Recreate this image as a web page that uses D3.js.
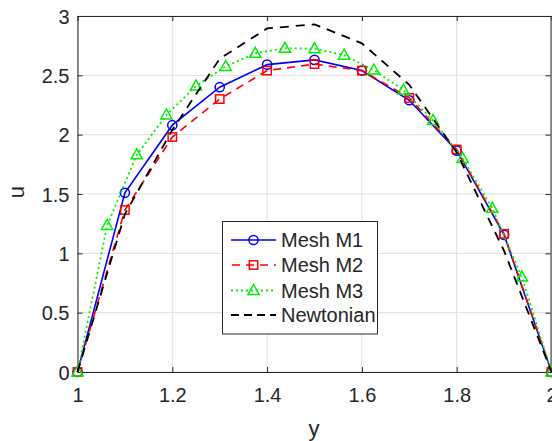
<!DOCTYPE html>
<html><head><meta charset="utf-8">
<script src="https://cdn.jsdelivr.net/npm/d3@7"></script>
<style>body{margin:0;background:#fff}svg{display:block}text{font-family:"Liberation Sans",Arial,sans-serif;fill:#262626}</style>
</head><body><svg id="c" width="552" height="441"></svg>
<script>
const xM12 = [1, 1.1, 1.2, 1.3, 1.4, 1.5, 1.6, 1.7, 1.8, 1.9, 2];
const uM1 = [0, 1.51, 2.08, 2.40, 2.59, 2.63, 2.54, 2.29, 1.865, 1.155, 0];
const uM2 = [0, 1.365, 1.98, 2.30, 2.54, 2.595, 2.54, 2.31, 1.875, 1.165, 0];
const xM3 = [1, 1.0625, 1.125, 1.1875, 1.25, 1.3125, 1.375, 1.4375, 1.5, 1.5625, 1.625, 1.6875, 1.75, 1.8125, 1.875, 1.9375, 2];
const uM3 = [0, 1.235, 1.83, 2.166, 2.41, 2.575, 2.686, 2.728, 2.725, 2.67, 2.545, 2.376, 2.12, 1.80, 1.38, 0.80, 0];
const xNewt = [1, 1.1, 1.2, 1.3, 1.4, 1.5, 1.6, 1.7, 1.8, 1.9, 2];
const uNewt = [0, 1.33, 2.04, 2.64, 2.895, 2.93, 2.77, 2.42, 1.85, 1.02, 0];
const xTicks = [1, 1.2, 1.4, 1.6, 1.8, 2];
const yTicks = [0, 0.5, 1, 1.5, 2, 2.5, 3];
const legendLabels = ["Mesh M1", "Mesh M2", "Mesh M3", "Newtonian"];

const svg = d3.select("#c");
const L = 77.5, R = 551.5, T = 16, B = 372;
const x = d3.scaleLinear().domain([1, 2]).range([L, R]);
const y = d3.scaleLinear().domain([0, 3]).range([B, T]);
const ink = "#262626";

// grid
const g = svg.append("g");
g.selectAll(".gx").data(xTicks).enter().append("line")
  .attr("x1", d => x(d)).attr("x2", d => x(d)).attr("y1", T).attr("y2", B)
  .attr("stroke", "#dedede").attr("stroke-width", 1);
g.selectAll(".gy").data(yTicks).enter().append("line")
  .attr("x1", L).attr("x2", R).attr("y1", d => y(d)).attr("y2", d => y(d))
  .attr("stroke", "#dedede").attr("stroke-width", 1);

// axes (ticks inside)
const fs = "20px";
const ax = svg.append("g").attr("transform", `translate(0,${B})`)
  .call(d3.axisBottom(x).tickValues(xTicks).tickFormat(d3.format("")).tickSizeInner(-5).tickSizeOuter(0).tickPadding(16));
const axT = svg.append("g").attr("transform", `translate(0,${T})`)
  .call(d3.axisTop(x).tickValues(xTicks).tickFormat("").tickSizeInner(-5).tickSizeOuter(0));
const ay = svg.append("g").attr("transform", `translate(${L},0)`)
  .call(d3.axisLeft(y).tickValues(yTicks).tickFormat(d3.format("")).tickSizeInner(-5).tickSizeOuter(0).tickPadding(8));
const ayR = svg.append("g").attr("transform", `translate(${R - 1},0)`)
  .call(d3.axisRight(y).tickValues(yTicks).tickFormat("").tickSizeInner(-5).tickSizeOuter(0));
[ax, axT, ay, ayR].forEach(a => {
  a.selectAll("path").attr("stroke", ink).attr("stroke-width", 1);
  a.selectAll("line").attr("stroke", ink);
  a.selectAll("text").style("font-size", fs).attr("fill", ink).style("font-family", '"Liberation Sans",Arial,sans-serif');
});
ay.selectAll("text").attr("dy", "0.36em");

svg.append("text").attr("x", 314).attr("y", 436).attr("text-anchor", "middle").style("font-size", "22px").text("y");
svg.append("text").attr("transform", "translate(24,192) rotate(-90)").attr("text-anchor", "middle").style("font-size", "22px").text("u");

// series
const series = [
  {xs: xM12, us: uM1, color: "#0000ff", dash: null, w: 1.6, marker: "circle"},
  {xs: xM12, us: uM2, color: "#ff0000", dash: "8,6", w: 1.6, marker: "square"},
  {xs: xM3, us: uM3, color: "#00ee00", dash: "2,3", w: 1.8, marker: "triangle"},
  {xs: xNewt, us: uNewt, color: "#000000", dash: "9,7", w: 1.8, marker: null}
];
const line = d3.line().x(d => x(d[0])).y(d => y(d[1]));
const drawMarker = (sel, type, color, cx, cy) => {
  if (type === "circle") sel.append("circle").attr("cx", cx).attr("cy", cy).attr("r", 4.6)
    .attr("fill", "none").attr("stroke", color).attr("stroke-width", 1.5);
  else if (type === "square") sel.append("rect").attr("x", cx - 4.2).attr("y", cy - 4.2).attr("width", 8.4).attr("height", 8.4)
    .attr("fill", "none").attr("stroke", color).attr("stroke-width", 1.5);
  else if (type === "triangle") sel.append("path")
    .attr("d", `M${cx},${cy - 6}L${cx + 5.6},${cy + 4}L${cx - 5.6},${cy + 4}Z`)
    .attr("fill", "none").attr("stroke", color).attr("stroke-width", 1.5);
};
series.forEach(s => {
  const pts = s.xs.map((v, j) => [v, s.us[j]]);
  const p = svg.append("path").datum(pts).attr("d", line).attr("fill", "none")
    .attr("stroke", s.color).attr("stroke-width", s.w);
  if (s.dash) p.attr("stroke-dasharray", s.dash);
  if (s.marker) pts.forEach(d => drawMarker(svg, s.marker, s.color, x(d[0]), y(d[1])));
});

// legend
const lg = svg.append("g");
lg.append("rect").attr("x", 222.5).attr("y", 221.5).attr("width", 155).attr("height", 112.5)
  .attr("fill", "#fff").attr("stroke", ink).attr("stroke-width", 1);
const ly = [240, 265, 290.5, 315];
series.forEach((s, i) => {
  const l = lg.append("line").attr("x1", 231).attr("x2", 276).attr("y1", ly[i]).attr("y2", ly[i])
    .attr("stroke", s.color).attr("stroke-width", s.w);
  if (s.dash) l.attr("stroke-dasharray", i === 3 ? "8,5" : s.dash).attr("stroke-dashoffset", i === 1 ? -1 : 0);
  if (s.marker) drawMarker(lg, s.marker, s.color, 253.5, ly[i]);
  lg.append("text").attr("x", 281).attr("y", ly[i]).attr("dy", "0.36em").style("font-size", "20px").text(legendLabels[i]);
});
</script></body></html>
